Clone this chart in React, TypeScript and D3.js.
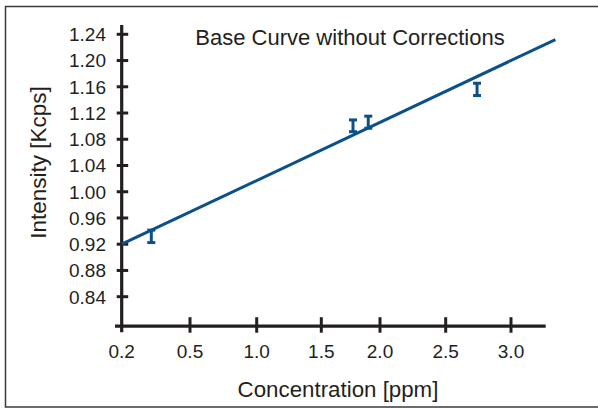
import { useEffect, useRef } from 'react';
import * as d3 from 'd3';

// tick values
const xTicks = [0.2, 0.5, 1.0, 1.5, 2.0, 2.5, 3.0];
const yTicks = [0.84, 0.88, 0.92, 0.96, 1.0, 1.04, 1.08, 1.12, 1.16, 1.2, 1.24];

// measured points (with error)
const pointX = [0.33, 1.77, 1.9, 2.74];
const pointY = [0.932, 1.1005, 1.106, 1.156];
const pointErr = [0.0095, 0.009, 0.0092, 0.0094];

// fitted base curve
const fitX = [0.2, 3.34];
const fitY = [0.92, 1.232];

const ink = '#231f20';
const blue = '#0b5089';
const font = 'Liberation Sans, Arial, Helvetica, sans-serif';

export default function App() {
  const ref = useRef<SVGSVGElement>(null);

  useEffect(() => {
    const width = 598, height = 409;
    const svg = d3.select(ref.current);
    svg.selectAll('*').remove();
    svg.attr('width', width).attr('height', height);

    // x axis is not evenly scaled in the original: tick positions spaced by hand
    const x = d3.scaleLinear().domain(xTicks).range([121.7, 190, 256.7, 321.3, 380, 445.7, 511]);
    const y = d3.scaleLinear().domain([0.84, 1.24]).range([296.7, 34.3]);
    const yBottom = y(0.795), yTop = y(1.254);

    svg.append('rect')
      .attr('x', 5.5).attr('y', 6.5)
      .attr('width', 600).attr('height', 400.5)
      .attr('fill', 'none').attr('stroke', '#3a3a3a').attr('stroke-width', 1.5);

    const gx = svg.append('g');
    gx.append('line')
      .attr('x1', 115).attr('x2', 545.7)
      .attr('y1', yBottom).attr('y2', yBottom)
      .attr('stroke', ink).attr('stroke-width', 3.2);
    gx.selectAll('line.tick')
      .data(xTicks.slice(1))
      .join('line')
      .attr('class', 'tick')
      .attr('x1', d => x(d)).attr('x2', d => x(d))
      .attr('y1', yBottom - 9).attr('y2', yBottom + 6.5)
      .attr('stroke', ink).attr('stroke-width', 3);
    gx.selectAll('text')
      .data(xTicks)
      .join('text')
      .attr('x', d => x(d)).attr('y', 358)
      .attr('text-anchor', 'middle')
      .attr('font-family', font).attr('font-size', 19).attr('fill', ink)
      .text(d => d.toFixed(1));

    const gy = svg.append('g');
    gy.append('line')
      .attr('x1', x(0.2)).attr('x2', x(0.2))
      .attr('y1', yTop).attr('y2', yBottom + 6)
      .attr('stroke', ink).attr('stroke-width', 3.2);
    gy.selectAll('line.tick')
      .data(yTicks)
      .join('line')
      .attr('class', 'tick')
      .attr('x1', x(0.2) - 5).attr('x2', x(0.2) + 6.5)
      .attr('y1', d => y(d)).attr('y2', d => y(d))
      .attr('stroke', ink).attr('stroke-width', 3);
    gy.selectAll('text')
      .data(yTicks)
      .join('text')
      .attr('x', 106).attr('y', d => y(d) + 6.8)
      .attr('text-anchor', 'end')
      .attr('font-family', font).attr('font-size', 19).attr('fill', ink)
      .text(d => d.toFixed(2));

    // fit line
    const line = d3.line<number>().x(d => x(d)).y((d, i) => y(fitY[i]));
    svg.append('path')
      .attr('d', line(fitX))
      .attr('fill', 'none').attr('stroke', blue).attr('stroke-width', 3);

    // error bars
    const pts = pointX.map((px, i) => ({ x: px, y: pointY[i], e: pointErr[i] }));
    const gb = svg.append('g').attr('stroke', blue).attr('stroke-width', 3);
    gb.selectAll('line.stem').data(pts).join('line').attr('class', 'stem')
      .attr('x1', d => x(d.x)).attr('x2', d => x(d.x))
      .attr('y1', d => y(d.y + d.e)).attr('y2', d => y(d.y - d.e));
    gb.selectAll('line.top').data(pts).join('line').attr('class', 'top')
      .attr('x1', d => x(d.x) - 4).attr('x2', d => x(d.x) + 4)
      .attr('y1', d => y(d.y + d.e)).attr('y2', d => y(d.y + d.e));
    gb.selectAll('line.bot').data(pts).join('line').attr('class', 'bot')
      .attr('x1', d => x(d.x) - 4).attr('x2', d => x(d.x) + 4)
      .attr('y1', d => y(d.y - d.e)).attr('y2', d => y(d.y - d.e));

    svg.append('text')
      .attr('x', 350).attr('y', 45)
      .attr('text-anchor', 'middle')
      .attr('font-family', font).attr('font-size', 22).attr('fill', ink)
      .text('Base Curve without Corrections');

    svg.append('text')
      .attr('x', 338).attr('y', 397)
      .attr('text-anchor', 'middle')
      .attr('font-family', font).attr('font-size', 22.3).attr('fill', ink)
      .text('Concentration [ppm]');

    svg.append('text')
      .attr('transform', 'translate(45.5,162.5) rotate(-90)')
      .attr('text-anchor', 'middle')
      .attr('font-family', font).attr('font-size', 22.5).attr('fill', ink)
      .text('Intensity [Kcps]');
  }, []);

  return <svg ref={ref} style={{ position: 'absolute', left: 0, top: 0 }}></svg>;
}
